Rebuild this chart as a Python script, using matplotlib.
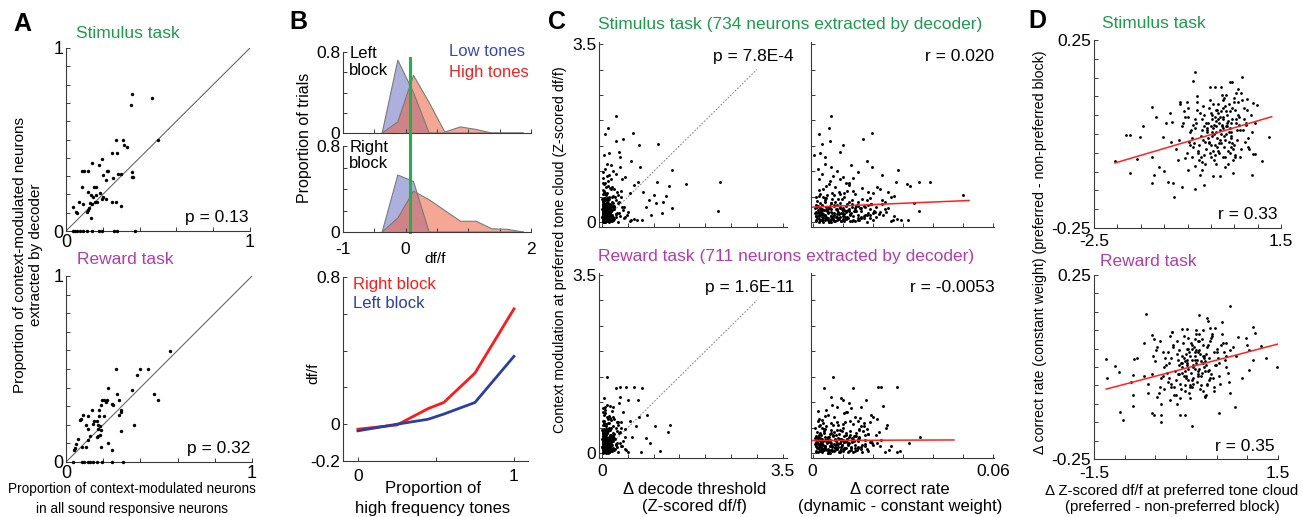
import matplotlib
matplotlib.use('Agg')
import matplotlib.pyplot as plt
import numpy as np

plt.rcParams['font.family'] = ['Liberation Sans', 'DejaVu Sans']

W, H = 1303, 517
GREEN = '#1f9a4c'
PURPLE = '#b03cb0'

# ---- A: proportion of context-modulated neurons per session
a_stim_x = [0.357, 0.353, 0.469, 0.502, 0.270, 0.312, 0.315, 0.330, 0.248, 0.275,
            0.197, 0.181, 0.221, 0.230, 0.199, 0.217, 0.139, 0.089, 0.100, 0.121,
            0.284, 0.297, 0.257, 0.357, 0.357, 0.366, 0.085, 0.154, 0.161, 0.121,
            0.136, 0.145, 0.163, 0.185, 0.203, 0.194, 0.217, 0.167, 0.156, 0.130,
            0.139, 0.127, 0.116, 0.121, 0.134, 0.069, 0.040, 0.054, 0.062, 0.094,
            0.252, 0.272, 0.297, 0.036, 0.049, 0.058, 0.076, 0.094, 0.116, 0.139,
            0.181, 0.194, 0.261, 0.279, 0.375]
a_stim_y = [0.751, 0.687, 0.727, 0.496, 0.496, 0.496, 0.469, 0.460, 0.424, 0.424,
            0.396, 0.360, 0.329, 0.329, 0.305, 0.278, 0.369, 0.327, 0.327, 0.327,
            0.311, 0.311, 0.287, 0.324, 0.296, 0.293, 0.242, 0.242, 0.242, 0.211,
            0.196, 0.187, 0.196, 0.205, 0.187, 0.173, 0.173, 0.160, 0.160, 0.151,
            0.147, 0.124, 0.105, 0.115, 0.069, 0.160, 0.133, 0.102, 0.096, 0.147,
            0.160, 0.160, 0.136, 0, 0, 0, 0, 0, 0, 0,
            0, 0, 0, 0, 0]
a_rew_x = [0.560, 0.269, 0.398, 0.440, 0.382, 0.224, 0.353, 0.475, 0.497, 0.274,
           0.192, 0.205, 0.215, 0.219, 0.283, 0.246, 0.255, 0.188, 0.178, 0.142,
           0.296, 0.298, 0.283, 0.179, 0.206, 0.120, 0.090, 0.081, 0.075, 0.153,
           0.165, 0.147, 0.171, 0.183, 0.110, 0.119, 0.174, 0.186, 0.183, 0.174,
           0.165, 0.129, 0.117, 0.066, 0.054, 0.106, 0.048, 0.187, 0.224, 0.246,
           0.296, 0.363, 0.045, 0.084, 0.038, 0.086, 0.099, 0.117, 0.131, 0.145,
           0.165, 0.192, 0.246, 0.309]
a_rew_y = [0.598, 0.499, 0.499, 0.499, 0.470, 0.399, 0.386, 0.363, 0.332, 0.363,
           0.332, 0.332, 0.323, 0.332, 0.332, 0.311, 0.305, 0.305, 0.282, 0.282,
           0.282, 0.269, 0.251, 0.248, 0.248, 0.248, 0.251, 0.230, 0.224, 0.219,
           0.219, 0.203, 0.197, 0.194, 0.197, 0.180, 0.176, 0.171, 0.147, 0.138,
           0.135, 0.140, 0.120, 0.122, 0.099, 0.081, 0.075, 0.081, 0.102, 0.063,
           0.165, 0.197, 0.063, 0.081, 0, 0, 0, 0, 0, 0,
           0, 0, 0, 0]

# ---- B: df/f distributions and tuning
hist_bins = [-0.375, -0.125, 0.125, 0.375, 0.625, 0.875, 1.125, 1.375, 1.625, 1.875]
left_low = [0, 0.72, 0.40, 0, 0, 0, 0, 0, 0, 0]
left_high = [0, 0.11, 0.57, 0.30, 0.01, 0.06, 0.035, 0, 0, 0]
right_low = [0, 0.53, 0.47, 0, 0, 0, 0, 0, 0, 0]
right_high = [0, 0.13, 0.38, 0.30, 0.20, 0.10, 0.10, 0.03, 0.025, 0]
boundary = 0.07
tone_prop = [0, 0.25, 0.45, 0.55, 0.75, 1.0]
right_block = [-0.027, -0.004, 0.085, 0.118, 0.278, 0.627]
left_block = [-0.036, 0.0, 0.027, 0.055, 0.118, 0.369]

# ---- C: context modulation vs decoder contribution
c_stim_mod = [2.09, 1.85, 1.73, 1.60, 1.63, 1.76, 1.51, 1.53, 1.20, 1.09,
              1.29, 1.02, 0.75, 0.79, 0.23, 0.72, 0.80, 0.53, 0.39, 0.41,
              0.51, 0.28, 0.18, 0.44, 0.31, 0.05, 0.04, 0.05, 0.15, 0.80,
              0.74, 0.57, 0.60, 1.39, 1.36, 1.32, 1.15, 1.09, 0.90, 1.00,
              0.02, 0.05, 0.08, 0.10, 0.12, 0.15, 0.03, 0.06, 0.09, 0.14,
              0.18, 0.20, 0.22, 0.25, 0.27, 0.30, 0.32, 0.35, 0.38, 0.40,
              0.42, 0.45, 0.48, 0.50, 0.55, 0.58, 0.62, 0.65, 0.70, 0.75,
              0.01, 0.04, 0.07, 0.11, 0.13, 0.16, 0.19, 0.21, 0.24, 0.26,
              0.29, 0.33, 0.36, 0.39, 0.43, 0.46, 0.52, 0.56, 0.60, 0.68,
              0.72, 0.78, 0.85, 0.88, 0.92, 0.95, 0.98, 0.10, 0.20, 0.30,
              0.00, 0.02, 0.05, 0.08, 0.12, 0.17, 0.23, 0.28, 0.34, 0.41,
              0.47, 0.53, 0.61, 0.66, 0.82, 1.05, 1.12, 0.02, 0.06, 0.14,
              0.03, 0.09, 0.16, 0.19, 0.24, 0.37, 0.44, 0.50, 0.57, 0.63,
              0.07, 0.11, 0.18, 0.26, 0.31, 0.36, 0.45, 0.54, 0.70, 0.86,
              0.04, 0.13, 0.21, 0.27, 0.33, 0.40, 0.49, 0.59, 0.78, 0.93,
              0.01, 0.03, 0.05, 0.07, 0.09, 0.11, 0.13, 0.15, 0.17, 0.19,
              0.21, 0.23, 0.25, 0.27, 0.29, 0.31, 0.33, 0.35, 0.37, 0.39,
              0.02, 0.06, 0.10, 0.14, 0.18, 0.22, 0.26, 0.30, 0.34, 0.38,
              0.00, 0.04, 0.08, 0.12, 0.16, 0.20, 0.24, 0.28, 0.32, 0.36,
              0.03, 0.08, 0.13, 0.18, 0.23, 0.28, 0.33, 0.43, 0.48, 0.55,
              0.05, 0.10, 0.15, 0.20, 0.25, 0.30, 0.35, 0.40, 0.45, 0.50,
              0.00, 0.02, 0.04, 0.06, 0.08, 0.10, 0.12, 0.14, 0.16, 0.18,
              0.20, 0.22, 0.24, 0.26, 0.28, 0.30, 0.01, 0.03, 0.05, 0.07,
              0.09, 0.11, 0.13, 0.15, 0.17, 0.19, 0.21, 0.23, 0.25, 0.27,
              0.29, 0.32, 0.02, 0.05, 0.08, 0.11, 0.14, 0.17, 0.20, 0.23,
              0.26, 0.04, 0.07, 0.12, 0.18, 0.24, 0.34, 0.06, 0.15, 0.22]
c_stim_thr = [0.27, 0.11, 0.05, 0.27, 0.41, 0.59, 0.72, 1.09, 0.56, 0.74,
              0.34, 1.35, 1.63, 2.29, 2.24, 1.29, 1.06, 1.01, 1.04, 1.19,
              1.24, 1.36, 1.16, 0.90, 0.85, 0.77, 0.67, 0.57, 0.94, 0.70,
              0.62, 0.54, 0.80, 0.32, 0.14, 0.03, 0.09, 0.35, 0.45, 0.22,
              0.02, 0.05, 0.01, 0.08, 0.03, 0.12, 0.15, 0.20, 0.06, 0.02,
              0.04, 0.10, 0.01, 0.07, 0.18, 0.03, 0.12, 0.05, 0.22, 0.09,
              0.02, 0.14, 0.06, 0.25, 0.01, 0.10, 0.04, 0.17, 0.08, 0.03,
              0.30, 0.11, 0.24, 0.00, 0.35, 0.08, 0.28, 0.16, 0.40, 0.13,
              0.02, 0.19, 0.05, 0.31, 0.11, 0.00, 0.21, 0.07, 0.29, 0.15,
              0.12, 0.05, 0.18, 0.02, 0.09, 0.26, 0.01, 0.45, 0.50, 0.38,
              0.06, 0.13, 0.22, 0.42, 0.01, 0.26, 0.04, 0.09, 0.14, 0.33,
              0.04, 0.08, 0.36, 0.23, 0.11, 0.06, 0.17, 0.55, 0.62, 0.48,
              0.10, 0.03, 0.07, 0.33, 0.20, 0.01, 0.27, 0.13, 0.05, 0.02,
              0.18, 0.27, 0.14, 0.05, 0.43, 0.16, 0.07, 0.30, 0.20, 0.39,
              0.09, 0.01, 0.03, 0.24, 0.06, 0.20, 0.36, 0.03, 0.01, 0.13,
              0.05, 0.12, 0.02, 0.16, 0.08, 0.04, 0.19, 0.10, 0.01, 0.14,
              0.07, 0.02, 0.13, 0.21, 0.04, 0.09, 0.01, 0.17, 0.06, 0.11,
              0.15, 0.08, 0.22, 0.03, 0.11, 0.18, 0.06, 0.24, 0.02, 0.08,
              0.01, 0.20, 0.11, 0.06, 0.27, 0.03, 0.14, 0.10, 0.19, 0.04,
              0.09, 0.03, 0.14, 0.07, 0.10, 0.01, 0.23, 0.06, 0.10, 0.03,
              0.21, 0.16, 0.05, 0.12, 0.01, 0.15, 0.08, 0.02, 0.12, 0.19,
              0.03, 0.09, 0.15, 0.01, 0.06, 0.12, 0.02, 0.17, 0.08, 0.04,
              0.11, 0.05, 0.15, 0.00, 0.08, 0.03, 0.13, 0.07, 0.18, 0.10,
              0.02, 0.14, 0.07, 0.11, 0.04, 0.16, 0.09, 0.01, 0.12, 0.06,
              0.13, 0.05, 0.19, 0.04, 0.10, 0.00, 0.05, 0.13, 0.02, 0.17,
              0.08, 0.07, 0.13, 0.17, 0.01, 0.10, 0.07, 0.22, 0.20, 0.06]
c_stim_cr = [0.0063, 0.0055, 0.0021, 0.0059, 0.0169, 0.0198, 0.0101, 0.0033, 0.0180, 0.0198,
             0.0040, 0.0283, 0.0314, 0.0389, 0.0355, 0.0324, 0.0354, 0.0501, 0.0337, 0.0240,
             0.0270, 0.0250, 0.0200, 0.0230, 0.0210, 0.0317, 0.0293, 0.0267, 0.0190, 0.0279,
             0.0120, 0.0200, 0.0250, 0.0090, 0.0025, 0.0005, 0.0040, 0.0060, 0.0100, 0.0080,
             0.0010, 0.0030, 0.0050, 0.0080, 0.0100, 0.0020, 0.0130, 0.0060, 0.0150, 0.0040,
             0.0070, 0.0020, 0.0110, 0.0140, 0.0050, 0.0090, 0.0170, 0.0030, 0.0060, 0.0120,
             0.0015, 0.0085, 0.0045, 0.0105, 0.0025, 0.0065, 0.0135, 0.0035, 0.0075, 0.0055,
             0.0180, 0.0200, 0.0045, 0.0160, 0.0012, 0.0220, 0.0095, 0.0028, 0.0118, 0.0190,
             0.0008, 0.0152, 0.0232, 0.0063, 0.0180, 0.0098, 0.0022, 0.0142, 0.0088, 0.0165,
             0.0045, 0.0110, 0.0020, 0.0135, 0.0068, 0.0030, 0.0150, 0.0210, 0.0245, 0.0175,
             0.0055, 0.0125, 0.0025, 0.0085, 0.0170, 0.0035, 0.0205, 0.0140, 0.0012, 0.0075,
             0.0190, 0.0048, 0.0115, 0.0225, 0.0058, 0.0018, 0.0128, 0.0260, 0.0280, 0.0235,
             0.0070, 0.0160, 0.0100, 0.0015, 0.0080, 0.0195, 0.0040, 0.0260, 0.0105, 0.0020,
             0.0110, 0.0030, 0.0185, 0.0240, 0.0055, 0.0130, 0.0165, 0.0070, 0.0215, 0.0090,
             0.0150, 0.0270, 0.0060, 0.0033, 0.0145, 0.0040, 0.0010, 0.0185, 0.0120, 0.0230,
             0.0035, 0.0095, 0.0155, 0.0022, 0.0118, 0.0068, 0.0042, 0.0175, 0.0088, 0.0128,
             0.0052, 0.0138, 0.0018, 0.0098, 0.0162, 0.0045, 0.0110, 0.0072, 0.0195, 0.0026,
             0.0140, 0.0065, 0.0108, 0.0182, 0.0032, 0.0122, 0.0078, 0.0015, 0.0148, 0.0092,
             0.0062, 0.0025, 0.0170, 0.0135, 0.0082, 0.0208, 0.0038, 0.0158, 0.0058, 0.0115,
             0.0105, 0.0190, 0.0060, 0.0028, 0.0145, 0.0100, 0.0070, 0.0130, 0.0040, 0.0090,
             0.0080, 0.0045, 0.0125, 0.0225, 0.0105, 0.0055, 0.0185, 0.0150, 0.0065, 0.0035,
             0.0020, 0.0075, 0.0040, 0.0110, 0.0015, 0.0090, 0.0060, 0.0030, 0.0125, 0.0050,
             0.0010, 0.0100, 0.0045, 0.0080, 0.0025, 0.0130, 0.0055, 0.0095, 0.0012, 0.0068,
             0.0035, 0.0115, 0.0022, 0.0070, 0.0105, 0.0008, 0.0085, 0.0140, 0.0032, 0.0062,
             0.0092, 0.0018, 0.0058, 0.0135, 0.0040, 0.0078, 0.0150, 0.0026, 0.0112, 0.0048,
             0.0120, 0.0052, 0.0088, 0.0012, 0.0064, 0.0028, 0.0082, 0.0100, 0.0038, 0.0160]

c_rew_mod = [1.49, 1.27, 1.29, 1.30, 1.30, 1.27, 1.05, 1.04, 0.99, 1.09,
             0.55, 0.42, 0.53, 0.03, 0.19, 0.75, 0.71, 0.52, 0.62, 0.01,
             0.29, 1.11, 0.93, 0.32, 0.85, 0.90, 0.80, 0.66, 0.60, 0.48,
             0.02, 0.05, 0.08, 0.10, 0.12, 0.15, 0.03, 0.06, 0.09, 0.14,
             0.18, 0.20, 0.22, 0.25, 0.27, 0.30, 0.32, 0.35, 0.38, 0.40,
             0.42, 0.45, 0.48, 0.50, 0.55, 0.58, 0.62, 0.65, 0.70, 0.75,
             0.01, 0.04, 0.07, 0.11, 0.13, 0.16, 0.19, 0.21, 0.24, 0.26,
             0.29, 0.33, 0.36, 0.39, 0.43, 0.46, 0.52, 0.56, 0.60, 0.68,
             0.72, 0.78, 0.82, 0.88, 0.95, 0.00, 0.02, 0.05, 0.08, 0.12,
             0.17, 0.23, 0.28, 0.34, 0.41, 0.47, 0.53, 0.61, 0.66, 0.02,
             0.06, 0.14, 0.03, 0.09, 0.16, 0.19, 0.24, 0.37, 0.44, 0.50,
             0.57, 0.63, 0.07, 0.11, 0.18, 0.26, 0.31, 0.36, 0.45, 0.54,
             0.70, 0.04, 0.13, 0.21, 0.27, 0.33, 0.40, 0.49, 0.59, 0.80,
             0.01, 0.06, 0.10, 0.15, 0.22, 0.28, 0.35, 0.43, 0.58, 0.91,
             0.01, 0.03, 0.05, 0.07, 0.09, 0.11, 0.13, 0.15, 0.17, 0.19,
             0.21, 0.23, 0.25, 0.27, 0.29, 0.31, 0.33, 0.35, 0.37, 0.39,
             0.02, 0.06, 0.10, 0.14, 0.18, 0.22, 0.26, 0.30, 0.34, 0.38,
             0.00, 0.04, 0.08, 0.12, 0.16, 0.20, 0.24, 0.28, 0.32, 0.36,
             0.03, 0.08, 0.13, 0.18, 0.23, 0.28, 0.33, 0.43, 0.48, 0.55,
             0.05, 0.10, 0.15, 0.20, 0.25, 0.30, 0.35, 0.40, 0.45, 0.50,
             0.01, 0.03, 0.05, 0.07, 0.09, 0.11, 0.13, 0.15, 0.17, 0.19,
             0.21, 0.23, 0.25, 0.27, 0.29, 0.31, 0.00, 0.02, 0.04, 0.06,
             0.08, 0.10, 0.12, 0.14, 0.16, 0.18, 0.20, 0.22, 0.24, 0.26,
             0.28, 0.32, 0.03, 0.06, 0.09, 0.12, 0.15, 0.18, 0.21, 0.24,
             0.27, 0.05, 0.08, 0.13, 0.19, 0.25, 0.35, 0.07, 0.16, 0.23]
c_rew_thr = [0.09, 0.27, 0.35, 0.46, 0.61, 0.77, 0.51, 0.70, 0.32, 0.03,
             1.32, 1.27, 1.03, 1.12, 0.92, 0.87, 0.72, 0.66, 0.54, 0.76,
             0.85, 0.34, 0.15, 0.58, 0.05, 0.22, 0.40, 0.12, 0.30, 0.45,
             0.03, 0.06, 0.01, 0.09, 0.04, 0.13, 0.17, 0.21, 0.07, 0.02,
             0.05, 0.11, 0.02, 0.08, 0.19, 0.03, 0.13, 0.06, 0.24, 0.10,
             0.02, 0.15, 0.07, 0.27, 0.01, 0.11, 0.04, 0.18, 0.09, 0.03,
             0.31, 0.12, 0.25, 0.00, 0.36, 0.08, 0.29, 0.17, 0.41, 0.14,
             0.02, 0.20, 0.05, 0.32, 0.12, 0.00, 0.22, 0.07, 0.28, 0.16,
             0.13, 0.06, 0.19, 0.02, 0.10, 0.07, 0.14, 0.23, 0.44, 0.01,
             0.27, 0.04, 0.09, 0.15, 0.34, 0.04, 0.08, 0.37, 0.24, 0.50,
             0.47, 0.39, 0.10, 0.03, 0.07, 0.34, 0.21, 0.01, 0.28, 0.13,
             0.05, 0.02, 0.19, 0.28, 0.15, 0.05, 0.44, 0.17, 0.08, 0.31,
             0.21, 0.10, 0.01, 0.03, 0.25, 0.06, 0.21, 0.37, 0.03, 0.01,
             0.14, 0.21, 0.05, 0.11, 0.01, 0.18, 0.03, 0.09, 0.14, 0.06,
             0.04, 0.11, 0.02, 0.15, 0.07, 0.03, 0.18, 0.09, 0.01, 0.13,
             0.06, 0.02, 0.12, 0.20, 0.04, 0.08, 0.01, 0.16, 0.05, 0.10,
             0.14, 0.07, 0.21, 0.03, 0.10, 0.17, 0.05, 0.23, 0.02, 0.07,
             0.01, 0.19, 0.10, 0.05, 0.26, 0.03, 0.13, 0.09, 0.18, 0.04,
             0.08, 0.03, 0.13, 0.06, 0.09, 0.01, 0.22, 0.05, 0.09, 0.03,
             0.20, 0.15, 0.05, 0.11, 0.01, 0.14, 0.07, 0.02, 0.11, 0.18,
             0.02, 0.08, 0.14, 0.01, 0.05, 0.11, 0.03, 0.16, 0.07, 0.04,
             0.10, 0.05, 0.14, 0.00, 0.07, 0.03, 0.12, 0.06, 0.17, 0.09,
             0.02, 0.13, 0.06, 0.10, 0.04, 0.15, 0.08, 0.01, 0.11, 0.05,
             0.12, 0.05, 0.18, 0.04, 0.09, 0.00, 0.05, 0.12, 0.02, 0.16,
             0.07, 0.06, 0.12, 0.16, 0.01, 0.09, 0.06, 0.21, 0.19, 0.05]
c_rew_cr = [0.0069, 0.0134, 0.0216, 0.0229, 0.0280, 0.0038, 0.0178, 0.0100, 0.0120, 0.0096,
            0.0249, 0.0222, 0.0160, 0.0292, 0.0322, 0.0196, 0.0140, 0.0170, 0.0150, 0.0282,
            0.0130, 0.0060, 0.0233, 0.0356, 0.0045, 0.0080, 0.0110, 0.0020, 0.0190, 0.0155,
            0.0010, 0.0030, 0.0050, 0.0075, 0.0095, 0.0020, 0.0120, 0.0060, 0.0140, 0.0040,
            0.0070, 0.0018, 0.0105, 0.0130, 0.0048, 0.0085, 0.0155, 0.0028, 0.0058, 0.0112,
            0.0015, 0.0082, 0.0042, 0.0100, 0.0024, 0.0063, 0.0125, 0.0033, 0.0072, 0.0052,
            0.0165, 0.0185, 0.0043, 0.0150, 0.0012, 0.0200, 0.0090, 0.0027, 0.0110, 0.0175,
            0.0008, 0.0145, 0.0210, 0.0060, 0.0168, 0.0092, 0.0021, 0.0135, 0.0083, 0.0158,
            0.0043, 0.0105, 0.0019, 0.0128, 0.0065, 0.0052, 0.0118, 0.0024, 0.0080, 0.0160,
            0.0033, 0.0195, 0.0133, 0.0011, 0.0071, 0.0180, 0.0046, 0.0108, 0.0215, 0.0240,
            0.0255, 0.0225, 0.0066, 0.0152, 0.0098, 0.0014, 0.0077, 0.0185, 0.0038, 0.0245,
            0.0100, 0.0019, 0.0105, 0.0029, 0.0175, 0.0228, 0.0052, 0.0124, 0.0156, 0.0067,
            0.0202, 0.0140, 0.0260, 0.0057, 0.0031, 0.0138, 0.0037, 0.0009, 0.0170, 0.0113,
            0.0088, 0.0036, 0.0128, 0.0062, 0.0190, 0.0115, 0.0022, 0.0098, 0.0034, 0.0160,
            0.0032, 0.0090, 0.0148, 0.0020, 0.0112, 0.0064, 0.0040, 0.0165, 0.0084, 0.0122,
            0.0050, 0.0132, 0.0017, 0.0094, 0.0155, 0.0043, 0.0105, 0.0069, 0.0185, 0.0025,
            0.0134, 0.0062, 0.0103, 0.0173, 0.0030, 0.0116, 0.0074, 0.0014, 0.0141, 0.0088,
            0.0059, 0.0024, 0.0162, 0.0128, 0.0078, 0.0198, 0.0036, 0.0150, 0.0055, 0.0110,
            0.0100, 0.0180, 0.0057, 0.0027, 0.0138, 0.0095, 0.0067, 0.0124, 0.0038, 0.0086,
            0.0076, 0.0043, 0.0119, 0.0214, 0.0100, 0.0052, 0.0176, 0.0143, 0.0062, 0.0033,
            0.0018, 0.0070, 0.0038, 0.0105, 0.0014, 0.0085, 0.0057, 0.0028, 0.0118, 0.0047,
            0.0010, 0.0095, 0.0042, 0.0076, 0.0024, 0.0122, 0.0052, 0.0090, 0.0012, 0.0064,
            0.0033, 0.0108, 0.0021, 0.0066, 0.0099, 0.0008, 0.0080, 0.0132, 0.0030, 0.0059,
            0.0087, 0.0017, 0.0055, 0.0127, 0.0038, 0.0074, 0.0142, 0.0025, 0.0106, 0.0045,
            0.0113, 0.0049, 0.0083, 0.0011, 0.0060, 0.0026, 0.0077, 0.0095, 0.0036, 0.0150]

identity = [0, 3.0]
c_stim_fit_x = [0, 0.052]
c_stim_fit_y = [0.30, 0.43]
c_rew_fit_x = [0, 0.047]
c_rew_fit_y = [0.245, 0.255]

# ---- D: delta correct rate vs delta df/f
d_stim_x = [-2.05, -1.82, -1.74, -1.59, -1.72, -1.52, -1.27, -1.18, -1.25, -1.22,
            -1.27, -1.12, -1.00, -0.91, -0.79, -0.80, -0.62, -1.03, -0.87, -0.84,
            -0.66, -0.52, -0.39, -0.33, -0.01, 0.09, 0.21, 0.41, 0.46, 0.67,
            0.59, 0.77, 0.91, 0.98, 1.25, 1.09, 0.89, 0.94, 0.91, 0.80,
            -0.15, -0.23, 0.05, -0.34, 0.52, 0.48, 0.20, 0.30, -1.45, -0.95,
            -0.75, -0.62, -0.55, -0.48, -0.40, -0.35, -0.30, -0.25, -0.20, -0.15,
            -0.10, -0.05, 0.00, 0.05, 0.10, 0.15, 0.20, 0.25, 0.30, 0.35,
            0.40, 0.45, 0.50, 0.55, 0.60, 0.65, 0.70, 0.75, 0.80, 0.85,
            -0.68, -0.44, -0.28, -0.12, 0.02, 0.12, 0.22, 0.32, 0.42, 0.58,
            -0.58, -0.38, -0.18, -0.08, 0.08, 0.18, 0.28, 0.38, 0.48, 0.68,
            -0.50, -0.32, -0.22, -0.02, 0.04, 0.14, 0.24, 0.34, 0.44, 0.54,
            -0.42, -0.26, -0.14, 0.01, 0.09, 0.19, 0.29, 0.39, 0.52, 0.72,
            -0.65, -0.46, -0.34, -0.06, 0.06, 0.16, 0.26, 0.36, 0.46, 0.62,
            -0.36, -0.16, -0.04, 0.03, 0.11, 0.21, 0.31, 0.41, 0.56, 0.78,
            -0.30, -0.20, -0.09, 0.07, 0.13, 0.23, 0.27, 0.37, 0.47, 0.64,
            -0.85, -0.52, -0.11, 0.00, 0.17, 0.28, 0.33, 0.43, 0.53, 0.88,
            -0.45, -0.33, -0.21, -0.09, 0.03, 0.13, 0.23, 0.33, 0.43, 0.53,
            -0.38, -0.27, -0.17, -0.03, 0.08, 0.18, 0.27, 0.38, 0.49, 0.61,
            -0.55, -0.24, -0.13, 0.00, 0.10, 0.20, 0.31, 0.40, 0.50, 0.70,
            -0.70, -0.41, -0.07, 0.05, 0.15, 0.25, 0.35, 0.45, 0.62, 0.82,
            -0.60, -0.29, -0.19, 0.02, 0.12, 0.22, 0.32, 0.42, 0.57, 0.75,
            -0.48, -0.15, -0.01, 0.06, 0.16, 0.26, 0.36, 0.51, 0.66, 0.95]
d_stim_y = [-0.071, -0.003, -0.003, -0.067, -0.105, -0.007, 0.071, 0.046, -0.060, -0.109,
            -0.131, -0.087, -0.098, -0.127, -0.167, -0.131, -0.140, -0.007, 0.055, 0.033,
            0.086, 0.086, 0.142, 0.166, 0.124, 0.124, 0.124, 0.137, 0.139, 0.152,
            0.121, 0.092, 0.083, 0.077, -0.007, -0.071, -0.109, -0.053, -0.053, -0.034,
            -0.136, -0.109, -0.113, -0.145, -0.060, -0.105, -0.113, -0.087, 0.020, 0.030,
            -0.040, 0.020, -0.065, 0.045, -0.010, -0.085, 0.065, -0.030, 0.010, -0.055,
            0.030, -0.020, 0.055, -0.045, 0.005, 0.080, -0.015, 0.040, -0.060, 0.020,
            0.060, -0.025, 0.095, 0.010, 0.045, -0.040, 0.070, 0.025, -0.010, 0.050,
            -0.015, 0.005, -0.050, -0.080, -0.005, 0.035, 0.060, 0.000, 0.030, 0.085,
            0.060, -0.035, 0.040, 0.015, -0.030, -0.050, 0.095, -0.020, -0.070, 0.010,
            -0.095, 0.030, -0.005, 0.090, 0.015, -0.010, 0.025, 0.050, 0.005, 0.030,
            0.010, -0.070, 0.050, -0.060, 0.045, 0.010, -0.035, 0.080, 0.065, -0.020,
            0.080, -0.020, 0.015, -0.010, 0.025, 0.055, 0.015, -0.045, 0.040, -0.060,
            -0.025, -0.015, 0.070, 0.040, -0.080, 0.000, 0.075, 0.015, -0.015, 0.065,
            0.100, -0.095, 0.005, 0.000, 0.065, 0.105, 0.045, 0.035, -0.040, 0.110,
            -0.020, -0.050, -0.040, 0.020, -0.025, -0.005, 0.020, -0.005, 0.110, 0.005,
            -0.030, 0.040, -0.060, 0.010, 0.050, -0.035, 0.020, 0.060, -0.010, 0.040,
            0.025, -0.045, 0.075, -0.025, -0.055, 0.030, -0.060, 0.005, 0.085, 0.025,
            0.045, 0.055, -0.020, -0.030, 0.065, 0.045, -0.015, -0.050, -0.030, 0.040,
            -0.070, -0.060, 0.030, 0.080, -0.045, 0.090, 0.030, 0.070, 0.010, -0.040,
            0.030, 0.085, -0.075, 0.005, 0.020, -0.025, 0.105, -0.035, 0.050, 0.030,
            0.070, 0.020, -0.050, -0.070, 0.040, 0.070, -0.080, -0.055, 0.090, 0.030]
d_rew_x = [-1.30, -1.28, -1.16, -1.09, -1.07, -1.03, -0.89, -0.87, -0.86, -0.85,
           -0.80, -0.68, -0.66, -0.55, -0.56, -0.52, -0.40, -0.23, -0.07, 0.02,
           0.09, -0.10, -0.02, 0.22, 0.34, 0.36, 0.58, 0.71, 0.66, 0.77,
           0.84, 0.98, 0.99, 1.10, 1.12, 1.23, 1.30, 1.49, 1.02, 0.91,
           0.80, 0.53, 0.72, 0.31, 0.38, 1.10, 1.02, -0.86, -0.48, -0.40,
           -0.62, -0.50, -0.44, -0.38, -0.31, -0.26, -0.21, -0.16, -0.12, -0.08,
           -0.04, 0.00, 0.03, 0.07, 0.11, 0.15, 0.19, 0.23, 0.27, 0.31,
           0.35, 0.39, 0.43, 0.47, 0.51, 0.55, 0.60, 0.64, 0.68, 0.72,
           -0.55, -0.36, -0.24, -0.10, -0.01, 0.06, 0.13, 0.21, 0.29, 0.41,
           -0.47, -0.29, -0.14, -0.06, 0.04, 0.10, 0.17, 0.25, 0.33, 0.49,
           -0.40, -0.25, -0.18, -0.03, 0.01, 0.08, 0.14, 0.22, 0.30, 0.38,
           -0.33, -0.20, -0.11, -0.02, 0.05, 0.12, 0.18, 0.26, 0.36, 0.53,
           -0.52, -0.37, -0.27, -0.07, 0.02, 0.09, 0.16, 0.24, 0.32, 0.45,
           -0.28, -0.13, -0.05, 0.00, 0.07, 0.14, 0.20, 0.28, 0.40, 0.57,
           -0.23, -0.15, -0.07, 0.04, 0.09, 0.16, 0.19, 0.27, 0.34, 0.47,
           -0.68, -0.42, -0.09, -0.01, 0.11, 0.20, 0.24, 0.31, 0.39, 0.65,
           -0.40, -0.30, -0.19, -0.08, 0.02, 0.10, 0.18, 0.27, 0.36, 0.45,
           -0.34, -0.24, -0.15, -0.03, 0.06, 0.15, 0.23, 0.32, 0.42, 0.52,
           -0.49, -0.21, -0.12, 0.00, 0.08, 0.17, 0.26, 0.35, 0.44, 0.62,
           -0.62, -0.36, -0.06, 0.04, 0.12, 0.21, 0.30, 0.39, 0.54, 0.70,
           -0.53, -0.26, -0.17, 0.01, 0.10, 0.19, 0.28, 0.37, 0.50, 0.66,
           -0.43, -0.13, -0.01, 0.05, 0.14, 0.22, 0.31, 0.45, 0.58, 0.82]
d_rew_y = [0.021, -0.031, 0.003, -0.013, -0.121, -0.144, -0.040, -0.076, -0.106, 0.021,
           0.024, 0.064, 0.143, 0.087, -0.126, -0.130, -0.149, 0.096, 0.102, 0.102,
           -0.160, -0.130, -0.130, 0.141, 0.132, 0.126, 0.123, 0.166, 0.066, 0.055,
           0.082, 0.078, 0.060, 0.110, 0.092, 0.057, 0.025, -0.001, -0.008, -0.031,
           -0.108, -0.126, -0.072, -0.081, -0.008, 0.019, 0.046, -0.022, -0.081, -0.130,
           -0.045, 0.015, -0.070, 0.040, -0.015, -0.090, 0.060, -0.035, 0.005, -0.060,
           0.025, -0.025, 0.050, -0.050, 0.000, 0.075, -0.020, 0.035, -0.065, 0.015,
           0.055, -0.030, 0.090, 0.005, 0.040, -0.045, 0.065, 0.020, -0.015, 0.045,
           -0.020, 0.000, -0.055, -0.085, -0.010, 0.030, 0.055, -0.005, 0.025, 0.080,
           0.055, -0.040, 0.035, 0.010, -0.035, -0.055, 0.090, -0.025, -0.075, 0.005,
           -0.100, 0.025, -0.010, 0.085, 0.010, -0.015, 0.020, 0.045, 0.000, 0.025,
           0.005, -0.075, 0.045, -0.065, 0.040, 0.005, -0.040, 0.075, 0.060, -0.025,
           0.075, -0.025, 0.010, -0.015, 0.020, 0.050, 0.010, -0.050, 0.035, -0.065,
           -0.030, -0.020, 0.065, 0.035, -0.085, -0.005, 0.070, 0.010, -0.020, 0.060,
           0.095, -0.100, 0.000, -0.005, 0.060, 0.100, 0.040, 0.030, -0.045, 0.105,
           -0.025, -0.055, -0.045, 0.015, -0.030, -0.010, 0.015, -0.010, 0.105, 0.000,
           -0.030, 0.040, -0.055, 0.010, 0.050, -0.035, 0.020, 0.060, -0.010, 0.040,
           0.025, -0.045, 0.070, -0.025, -0.055, 0.030, -0.060, 0.005, 0.085, 0.025,
           0.045, 0.055, -0.020, -0.030, 0.065, 0.045, -0.015, -0.050, -0.030, 0.040,
           -0.070, -0.060, 0.030, 0.080, -0.045, 0.090, 0.030, 0.070, 0.010, -0.040,
           0.030, 0.085, -0.075, 0.005, 0.020, -0.025, 0.100, -0.035, 0.050, 0.030,
           0.070, 0.020, -0.050, -0.070, 0.040, 0.070, -0.080, -0.055, 0.090, 0.030]
d_stim_fit_x = [-2.05, 1.30]
d_stim_fit_y = [-0.077, 0.046]
d_rew_fit_x = [-1.30, 1.49]
d_rew_fit_y = [-0.060, 0.062]


fig = plt.figure(figsize=(W / 100, H / 100), dpi=100)


def add_ax(x0, y0, x1, y1):
    # pixel box (left, top, right, bottom) -> figure axes
    return fig.add_axes([x0 / W, 1 - y1 / H, (x1 - x0) / W, (y1 - y0) / H])


def ftext(x, y, s, **kw):
    fig.text(x / W, 1 - y / H, s, **kw)


def ends(ticks, first, last):
    return [first] + [''] * (len(ticks) - 2) + [last]


def style(ax, xt, xl, yt, yl, fs=12, xpad=2):
    for s in ('top', 'right'):
        ax.spines[s].set_visible(False)
    for s in ('left', 'bottom'):
        ax.spines[s].set_color('#3a3a3a')
        ax.spines[s].set_linewidth(0.8)
    ax.set_xticks(xt)
    ax.set_xticklabels(xl)
    ax.set_yticks(yt)
    ax.set_yticklabels(yl)
    ax.tick_params(direction='in', length=3, width=0.7, color='#3a3a3a',
                   labelsize=fs, pad=2)
    ax.tick_params(axis='x', pad=xpad)


# ---------- A
for box, xs, ys, ptxt in [((66, 48, 250, 231), a_stim_x, a_stim_y, 'p = 0.13'),
                          ((66, 276, 252, 462), a_rew_x, a_rew_y, 'p = 0.32')]:
    ax = add_ax(*box)
    ax.plot([0, 1], [0, 1], color='#555555', lw=0.7)
    ax.scatter(xs, ys, s=6, c='k', lw=0, clip_on=False, zorder=3)
    ax.set_xlim(0, 1)
    ax.set_ylim(0, 1)
    xt = np.arange(0, 1.01, 0.2)
    yt = np.arange(0, 1.01, 0.1)
    style(ax, xt, ends(xt, '0', '1'), yt, ends(yt, '0', '1'), fs=13)
    ax.text(0.99, 0.075, ptxt, ha='right', va='center', fontsize=12.5)

ftext(76, 33, 'Stimulus task', color=GREEN, fontsize=12.5, va='center')
ftext(77, 260, 'Reward task', color=PURPLE, fontsize=12.5, va='center')
ftext(28, 255, 'Proportion of context-modulated neurons\nextracted by decoder',
      rotation=90, ha='center', va='center', fontsize=11, multialignment='center')
ftext(132, 499, 'Proportion of context-modulated neurons\nin all sound responsive neurons',
      ha='center', va='center', fontsize=9.8, multialignment='center', linespacing=1.6)

# ---------- B histograms
hx = np.arange(-1, 2.01, 0.5)
hy = np.arange(0, 0.81, 0.2)
for box, low, high, btxt, gtop, last in [((343, 52, 531, 133), left_low, left_high, 'Left\nblock', 0.74, False),
                                         ((343, 146, 531, 232), right_low, right_high, 'Right\nblock', 0.92, True)]:
    ax = add_ax(*box)
    ax.fill_between(hist_bins, 0, low, facecolor='#6a6ec0', alpha=0.55, lw=0)
    ax.fill_between(hist_bins, 0, high, facecolor='#ee6040', alpha=0.55, lw=0)
    ax.plot(hist_bins, low, color='#7a7a7a', lw=0.8)
    ax.plot(hist_bins, high, color='#7a7a7a', lw=0.8)
    ax.plot([boundary, boundary], [0, gtop], color='#22b04b', lw=2.2, clip_on=False)
    ax.set_xlim(-1, 2)
    ax.set_ylim(0, 0.8)
    xl = ['-1', '', '0', '', '', '', '2'] if last else [''] * len(hx)
    style(ax, hx, xl, hy, ends(hy, '0', '0.8'), fs=12.5, xpad=7)
    ax.text(-0.9, 0.86, btxt, va='top', ha='left', fontsize=12, linespacing=1.15)

ftext(525, 52, 'Low tones', color='#3b4aa8', fontsize=12, ha='right', va='center')
ftext(529, 73, 'High tones', color='#ee2222', fontsize=12, ha='right', va='center')
ftext(305, 138, 'Proportion of trials', rotation=90, ha='center', va='center', fontsize=11.5)
ftext(435, 259, 'df/f', ha='center', va='center', fontsize=11)

# ---------- B tuning curves
ax = add_ax(343, 277, 528, 461)
ax.plot(tone_prop, right_block, color='#ff1a1a', lw=2)
ax.plot(tone_prop, left_block, color='#2b3fa0', lw=2)
ax.set_xlim(-0.096, 1.09)
ax.set_ylim(-0.2, 0.8)
bx = [0, 0.5, 1]
by = np.arange(-0.2, 0.81, 0.2)
style(ax, bx, ['0', '', '1'], by, ['-0.2', '0', '', '', '', '0.8'], fs=12.5, xpad=6)
ax.text(-0.03, 0.76, 'Right block', color='#ff1a1a', fontsize=12, va='center')
ax.text(-0.03, 0.655, 'Left block', color='#2b3fa0', fontsize=12, va='center')
ftext(313, 373, 'df/f', rotation=90, ha='center', va='center', fontsize=11)
ftext(433, 489, 'Proportion of', ha='center', va='center', fontsize=12)
ftext(433, 508, 'high frequency tones', ha='center', va='center', fontsize=12)

# ---------- C
cyt = np.arange(0, 3.51, 0.5)
cxt_l = np.arange(0, 3.51, 0.5)
cxt_r = np.arange(0, 0.0601, 0.01)
panels_c = [
    ((599, 42, 787, 227), (811, 42, 994, 227), c_stim_mod, c_stim_thr, c_stim_cr,
     c_stim_fit_x, c_stim_fit_y, 'p = 7.8E-4', 'r = 0.020', (-0.09, 3.54), False),
    ((599, 273, 787, 458), (811, 273, 994, 458), c_rew_mod, c_rew_thr, c_rew_cr,
     c_rew_fit_x, c_rew_fit_y, 'p = 1.6E-11', 'r = -0.0053', (-0.1, 3.54), True),
]
for lbox, rbox, mod, thr, cr, fx, fy, ptxt, rtxt, ylim, last in panels_c:
    ax = add_ax(*lbox)
    ax.plot(identity, identity, color='#8a8a8a', lw=0.8, ls=(0, (1.5, 1.5)))
    ax.scatter(thr, mod, s=4.5, c='k', lw=0, clip_on=False, zorder=3)
    ax.set_xlim(-0.06, 3.585)
    ax.set_ylim(*ylim)
    xl = ends(cxt_l, '0', '3.5') if last else [''] * len(cxt_l)
    style(ax, cxt_l, xl, cyt, ends(cyt, '0', '3.5'), fs=12.5, xpad=4)
    ax.text(3.72, 3.25, ptxt, ha='right', va='center', fontsize=12.5)

    ax = add_ax(*rbox)
    ax.scatter(cr, mod, s=4.5, c='k', lw=0, clip_on=False, zorder=3)
    ax.plot(fx, fy, color='#ff2020', lw=1.1, zorder=4)
    ax.set_xlim(-0.0005, 0.0603)
    ax.set_ylim(*ylim)
    xl = ends(cxt_r, '0', '0.06') if last else [''] * len(cxt_r)
    style(ax, cxt_r, xl, cyt, [''] * len(cyt), fs=12.5, xpad=4)
    ax.text(0.0605, 3.25, rtxt, ha='right', va='center', fontsize=12.5)

ftext(598, 24, 'Stimulus task (734 neurons extracted by decoder)', color=GREEN,
      fontsize=12.5, va='center')
ftext(598, 257, 'Reward task (711 neurons extracted by decoder)', color=PURPLE,
      fontsize=12.5, va='center')
ftext(560, 250, 'Context modulation at preferred tone cloud (Z-scored df/f)',
      rotation=90, ha='center', va='center', fontsize=10.3)
ftext(695, 498, '\u0394 decode threshold\n(Z-scored df/f)', ha='center', va='center',
      fontsize=12, multialignment='center', linespacing=1.2)
ftext(900, 498, '\u0394 correct rate\n(dynamic - constant weight)', ha='center',
      va='center', fontsize=12, multialignment='center', linespacing=1.2)

# ---------- D
dyt = np.arange(-0.25, 0.251, 0.05)
for box, xs, ys, fx, fy, xlim, rtxt, xpad in [
        ((1094, 40, 1281, 228), d_stim_x, d_stim_y, d_stim_fit_x, d_stim_fit_y, (-2.5, 1.5), 'r = 0.33', 4),
        ((1094, 275, 1278, 459), d_rew_x, d_rew_y, d_rew_fit_x, d_rew_fit_y, (-1.5, 1.5), 'r = 0.35', 5)]:
    ax = add_ax(*box)
    ax.scatter(xs, ys, s=4, c='k', lw=0, zorder=3)
    ax.plot(fx, fy, color='#ff2020', lw=1.1, zorder=4)
    ax.set_xlim(*xlim)
    ax.set_ylim(-0.25, 0.25)
    dxt = np.arange(xlim[0], xlim[1] + 0.01, 0.5)
    style(ax, dxt, ends(dxt, '%g' % xlim[0], '%g' % xlim[1]), dyt,
          ends(dyt, '-0.25', '0.25'), fs=12.5, xpad=xpad)
    ax.text(xlim[1] - 0.02 * (xlim[1] - xlim[0]), -0.215, rtxt, ha='right', va='center', fontsize=12.5)

ftext(1102, 24, 'Stimulus task', color=GREEN, fontsize=12.5, va='center')
ftext(1100, 261, 'Reward task', color=PURPLE, fontsize=12.5, va='center')
ftext(1040, 252, '\u0394 correct rate (constant weight) (preferred - non-preferred block)',
      rotation=90, ha='center', va='center', fontsize=10.2)
ftext(1172, 499, '\u0394 Z-scored df/f at preferred tone cloud\n(preferred - non-preferred block)',
      ha='center', va='center', fontsize=10.8, multialignment='center', linespacing=1.2)

# panel letters
for x, y, s in [(22, 24, 'A'), (298, 22, 'B'), (557, 22, 'C'), (1037, 21, 'D')]:
    ftext(x, y, s, fontsize=18, fontweight='bold', ha='center', va='center')

fig.savefig('out.png', dpi=100)
